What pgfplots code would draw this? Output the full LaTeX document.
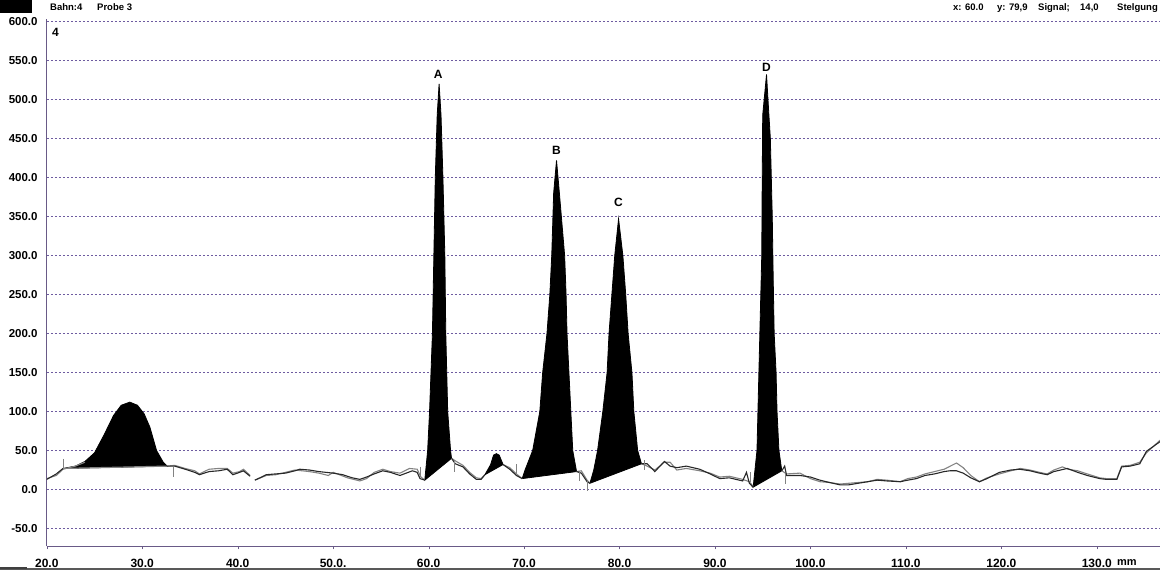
\documentclass[border=0pt]{standalone}
\usepackage{fontspec}
\setmainfont{Liberation Sans}
\usepackage{pgfplots}
\usepackage{pgfplotstable}
\pgfplotsset{compat=1.18}

\definecolor{gridc}{RGB}{110,92,160}
\definecolor{axc}{RGB}{105,90,135}
\definecolor{trace}{RGB}{40,40,40}
\definecolor{trace2}{RGB}{130,130,130}

% filled peaks (outline of each integrated area)
\pgfplotstableread{
x y
21.7 27
23 30
24 36
25 47
26 70
27 95
27.8 108
28.7 112
29.5 108
30.2 97
30.8 80
31.5 50
32.2 35
32.6 30
}\peakG
\pgfplotstableread{
x y
59.6 12
59.9 50
60.1 100
60.4 200
60.55 300
60.7 400
60.9 480
61.1 520
61.3 480
61.5 400
61.7 300
61.8 200
62.0 100
62.3 50
62.4 40
}\peakA
\pgfplotstableread{
x y
65.9 19
66.5 32
66.8 44
67.1 46
67.4 44
67.8 32
}\peakS
\pgfplotstableread{
x y
69.8 14
70.1 25
70.9 50
71.65 100
71.95 150
72.4 200
72.7 250
72.9 300
73.1 380
73.4 422
73.7 380
74.25 300
74.4 250
74.5 200
74.7 150
74.9 100
75.1 50
75.5 23
}\peakB
\pgfplotstableread{
x y
76.9 8
77.3 25
77.7 50
78.25 100
78.7 150
78.9 200
79.2 250
79.5 300
79.9 347
80.35 300
80.65 250
80.9 200
81.3 150
81.5 100
81.9 50
82.3 33
}\peakC
\pgfplotstableread{
x y
94.0 3
94.4 50
94.5 100
94.6 150
94.7 200
94.8 250
94.9 300
94.95 400
95.0 480
95.4 532
95.6 490
95.8 450
96.0 350
96.1 270
96.2 200
96.4 150
96.5 100
96.7 50
97.0 24
}\peakD

\begin{document}
\begin{tikzpicture}[x=1pt,y=1pt]
\useasboundingbox (0,0) rectangle (1160,573);
% header
\fill[black] (0,573) rectangle (32,560);
\begin{scope}[font=\fontsize{9.5}{10}\selectfont\bfseries]
\node[anchor=base west,inner sep=0pt] at (50,562) {Bahn:4};
\node[anchor=base west,inner sep=0pt] at (97,562) {Probe 3};
\node[anchor=base west,inner sep=0pt] at (953,562) {x: 60.0};
\node[anchor=base west,inner sep=0pt] at (997,562) {y: 79,9};
\node[anchor=base west,inner sep=0pt] at (1038,562) {Signal;};
\node[anchor=base west,inner sep=0pt] at (1080,562) {14,0};
\node[anchor=base west,inner sep=0pt] at (1117,562) {Stelgung};
\end{scope}
% bottom frame line
\draw[black!65,line width=1.2pt] (0,4) -- (1160,4);
\draw[black!75,line width=2.5pt] (0,5) -- (27,5);
\node[anchor=base west,inner sep=0pt,font=\fontsize{11}{11}\selectfont\bfseries] at (1117,7) {mm};
\node[anchor=base west,inner sep=0pt,font=\fontsize{12}{12}\selectfont\bfseries] at (52,536) {4};

\begin{axis}[
  at={(49,34)}, anchor=south west,
  scale only axis,
  width=1114pt, height=527pt,
  xmin=20, xmax=136.7,
  ymin=-73, ymax=602.5,
  axis x line*=bottom, axis y line*=left,
  axis line style={axc, line width=1.2pt},
  xtick={20,30,...,130},
  xticklabels={20.0,30.0,40.0,50.0.,60.0,70.0,80.0,90.0,100.0,110.0,120.0,130.0},
  ytick={-50,0,...,600},
  yticklabels={-50.0,0.0,50.0,100.0,150.0,200.0,250.0,300.0,350.0,400.0,450.0,500.0,550.0,600.0},
  tick align=outside,
  major tick length=3pt,
  xtick style={axc},
  ytick style={draw=none},
  ymajorgrids,
  grid style={gridc, line width=1pt, dash pattern=on 2pt off 2pt},
  xticklabel style={font=\fontsize{12}{12}\selectfont\bfseries, anchor=base, inner sep=0pt, yshift=-18pt},
  yticklabel style={font=\fontsize{11.5}{12}\selectfont\bfseries, anchor=east, inner sep=0pt, xshift=-6pt},
  clip=false,
]
% peak areas
\addplot[fill=black, draw=black, line width=0.8pt] table {\peakG} -- cycle;
\addplot[fill=black, draw=black, line width=0.8pt] table {\peakA} -- cycle;
\addplot[fill=black, draw=black, line width=0.8pt] table {\peakS} -- cycle;
\addplot[fill=black, draw=black, line width=0.8pt] table {\peakB} -- cycle;
\addplot[fill=black, draw=black, line width=0.8pt] table {\peakC} -- cycle;
\addplot[fill=black, draw=black, line width=0.8pt] table {\peakD} -- cycle;
% baseline of first peak
\addplot[trace2, line width=1.2pt] coordinates {(21.7,27) (32.6,30)};

% second (grey) trace
\addplot[trace2, line width=1.1pt] coordinates {
(20,14) (21,18) (21.7,26) (23,30) (24,35)};
\addplot[trace2, line width=1.1pt] coordinates {
(32.6,30) (33.4,31) (34.5,27) (35.5,24) (36,20) (37,26) (38,27) (38.9,27) (39.5,21) (40.2,23) (40.6,26) (41.3,18)};
\addplot[trace2, line width=1.1pt] coordinates {
(41.8,12) (43,18) (44,19) (45,22) (46,25) (47.5,23) (48.5,21) (49.5,18) (50,22) (51.5,15) (52.8,11) (53.5,14)
(54.3,22) (55.2,26) (56,23) (57,21) (58,27) (58.8,26) (59.2,16) (59.6,12)};
\addplot[trace2, line width=1.1pt] coordinates {
(62.4,40) (62.9,36) (63.6,31) (64.3,22) (65,15) (65.5,14) (65.9,19)};
\addplot[trace2, line width=1.1pt] coordinates {
(67.8,32) (68.5,28) (69.2,20) (69.8,14)};
\addplot[trace2, line width=1.1pt] coordinates {
(75.5,23) (76,24) (76.6,12) (76.9,8)};
\addplot[trace2, line width=1.1pt] coordinates {
(82.3,33) (82.9,30) (83.7,25) (84.7,35) (85.3,35) (86,25) (87,27) (88.4,24) (89.5,21) (90.5,16) (91.5,17)
(92.9,13) (93.6,10) (94,4)};
\addplot[trace2, line width=1.1pt] coordinates {
(97,24) (97.5,20) (98.9,21) (100,14) (101,10) (102,9) (103.1,7) (104,8) (105,9) (106,10) (107,13) (108,12)
(109.4,10) (110.2,14) (111.1,16) (112,20) (113,23) (114,26) (115.3,34) (116,28) (116.8,18) (117.7,10)
(118.5,15) (119.8,20) (121,24) (122,27) (123,25) (124,22) (124.8,20) (125.5,25) (126.4,29) (127,26)
(128,24) (129,20) (130.3,15) (131,14) (132.1,14) (132.6,30) (133.5,31) (134.5,35) (135.2,47) (136.7,64)};

% main (dark) trace
\addplot[trace, line width=1.1pt] coordinates {
(20,13) (21,20) (21.7,27)};
\addplot[trace, line width=1.1pt] coordinates {
(32.6,30) (33.4,30) (34.5,26) (35.5,22) (36,19) (37,23) (38,24) (38.9,26) (39.5,19) (40.2,22) (40.6,24) (41.3,17)};
\addplot[trace, line width=1.1pt] coordinates {
(41.8,12) (42.5,16) (43,19) (44,20) (45,21) (46,24) (46.5,26) (47.5,25) (48.5,23) (50,21) (51,19) (52,15)
(52.8,13) (53.5,16) (54.3,20) (55.2,24) (56,22) (57,18) (58.3,24) (58.8,22) (59.1,14) (59.6,12)};
\addplot[trace, line width=1.1pt] coordinates {
(62.4,40) (62.8,33) (63.6,29) (64.3,20) (65,13) (65.5,13) (65.9,19)};
\addplot[trace, line width=1.1pt] coordinates {
(67.8,32) (68.5,26) (69.2,18) (69.8,14)};
\addplot[trace, line width=1.1pt] coordinates {
(75.5,23) (76,21) (76.6,10) (76.9,8)};
\addplot[trace, line width=1.1pt] coordinates {
(82.3,33) (82.9,33) (83.7,23) (84.7,36) (85.3,30) (86,28) (87,30) (88.4,26) (89.5,20) (90.5,14) (91.5,15)
(92.9,11) (93.3,22) (93.6,8) (94,3)};
\addplot[trace, line width=1.1pt] coordinates {
(97,24) (97.3,30) (97.5,18) (98.9,18) (100,16) (101,12) (102,9) (103.1,6) (104,6) (105,8) (106,10) (107,12)
(108,11) (109.4,10) (110.2,12) (111.1,14) (112,18) (113,20) (114,23) (114.6,24) (115.3,24) (116,21)
(116.8,15) (117.7,10) (118.5,14) (119.8,22) (121,25) (121.9,26) (123,24) (124,21) (124.8,19) (125.5,23)
(126.9,27) (128,22) (129,18) (130.3,14) (131,13) (132.1,13) (132.6,29) (133.5,30) (134.5,33) (135.2,49) (136.7,62)};

% integration limit markers
\addplot[only marks, mark=|, mark size=5pt, trace2, mark options={line width=1pt}] coordinates {
(21.7,33) (33.3,23) (59.1,23) (62.7,29) (69.2,26) (75.8,17) (76.6,5) (82.6,31) (93.7,16) (97.4,14)};

% peak labels
\node[font=\fontsize{12}{12}\selectfont\bfseries] at (axis cs:61.0,532) {A};
\node[font=\fontsize{12}{12}\selectfont\bfseries] at (axis cs:73.4,435) {B};
\node[font=\fontsize{12}{12}\selectfont\bfseries] at (axis cs:79.9,368) {C};
\node[font=\fontsize{12}{12}\selectfont\bfseries] at (axis cs:95.4,541) {D};
\end{axis}
\end{tikzpicture}
\end{document}
